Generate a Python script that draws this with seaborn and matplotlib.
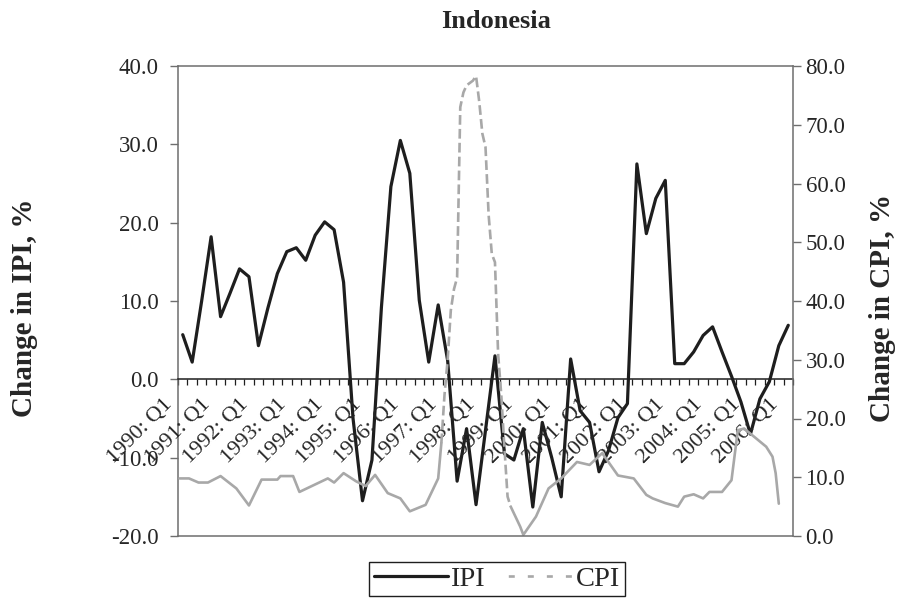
import numpy as np
import pandas as pd
import matplotlib
matplotlib.use("Agg")
import matplotlib.pyplot as plt
import matplotlib.transforms as mtransforms
import seaborn as sns
from matplotlib.lines import Line2D

# quarterly industrial production index growth, 1990 Q1 .. 2006 Q1
ipi = [5.7, 2.2, 10.0, 18.2, 8.0, 11.0, 14.1, 13.1, 4.3, 9.1,
       13.5, 16.3, 16.8, 15.2, 18.4, 20.1, 19.1, 12.4, -5.0, -15.5,
       -10.3, 9.2, 24.6, 30.5, 26.3, 10.1, 2.2, 9.5, 2.4, -13.0,
       -6.3, -16.0, -6.5, 3.0, -9.5, -10.3, -6.3, -16.3, -5.5, -10.0,
       -15.0, 2.6, -4.0, -5.5, -11.8, -9.1, -4.9, -3.1, 27.5, 18.6,
       23.1, 25.4, 2.0, 2.0, 3.5, 5.6, 6.7, 3.5, 0.4, -2.9,
       -7.0, -2.5, -0.3, 4.3, 6.9]

# consumer price inflation, months since Jan 1990
cpi_month = [0, 3, 6, 9, 13, 18, 22, 26, 31, 32, 36, 38, 47, 49, 52, 56, 59,
             62, 66, 70, 73, 78, 82, 83, 84, 85, 86, 87, 88, 89, 90, 91, 93,
             94, 95, 96, 97, 98, 99, 100, 101, 102, 103, 104, 105, 108, 109,
             113, 117, 121, 126, 130, 134, 139, 144, 148, 150, 154, 158, 160,
             163, 166, 168, 172, 175, 177, 179, 186, 188, 189, 190]
cpi_value = [9.8, 9.8, 9.1, 9.1, 10.2, 8.1, 5.2, 9.6, 9.6, 10.2, 10.2, 7.5,
             9.8, 9.1, 10.7, 9.3, 8.5, 10.4, 7.3, 6.4, 4.2, 5.3, 9.8, 15.8,
             24.0, 30.0, 38.4, 42.0, 44.0, 73.0, 75.5, 76.7, 77.5, 78.3,
             74.0, 68.5, 66.2, 54.6, 48.0, 46.6, 31.0, 24.0, 15.0, 6.7, 5.0,
             1.6, 0.2, 3.3, 8.1, 9.8, 12.6, 12.1, 14.1, 10.3, 9.8, 7.0, 6.4,
             5.6, 5.0, 6.7, 7.1, 6.4, 7.5, 7.5, 9.5, 18.0, 18.3, 15.2, 13.5,
             10.7, 5.5]
crisis_start, crisis_end = 83, 105

years = list(range(1990, 2007))
year_labels = [f"{y}: Q1" for y in years]

BLACK = "#1e1e1e"
GRAY = "#a8a8a8"
BORDER = "#6e6e6e"

sns.set_theme(style="white")
plt.rcParams["font.family"] = ["Liberation Serif", "DejaVu Serif"]
plt.rcParams["lines.scale_dashes"] = False

ipi_df = pd.DataFrame({"t": np.arange(len(ipi)), "ipi": ipi})
cpi_df = pd.DataFrame({"month": cpi_month, "cpi": cpi_value})
cpi_df["t"] = (cpi_df["month"] - 1) / 3
calm = pd.concat([
    cpi_df[cpi_df["month"] <= crisis_start].assign(seg=0),
    cpi_df[cpi_df["month"] >= crisis_end].assign(seg=1),
])
crisis = cpi_df[(cpi_df["month"] >= crisis_start) & (cpi_df["month"] <= crisis_end)]

fig = plt.figure(figsize=(9, 6.02), dpi=100)
ax = fig.add_axes([178 / 900, 1 - 536 / 602, 615 / 900, 470 / 602])
ax2 = ax.twinx()

sns.lineplot(data=ipi_df, x="t", y="ipi", ax=ax, color=BLACK, linewidth=2.3, legend=False)
sns.lineplot(data=calm, x="t", y="cpi", units="seg", estimator=None, ax=ax2,
             color=GRAY, linewidth=1.9, legend=False)
sns.lineplot(data=crisis, x="t", y="cpi", estimator=None, ax=ax2, color=GRAY,
             linewidth=1.9, linestyle=(0, (7, 3)), legend=False)

ax.set_xlim(-0.5, len(ipi) - 0.5)
ax.set_ylim(-20, 40)
ax2.set_ylim(0, 80)
for a in (ax, ax2):
    a.set_xlabel("")
    a.set_ylabel("")
    a.grid(False)

ax.set_yticks(np.arange(-20, 41, 10))
ax.set_yticklabels([f"{v:.1f}" for v in np.arange(-20, 41, 10)])
ax2.set_yticks(np.arange(0, 81, 10))
ax2.set_yticklabels([f"{v:.1f}" for v in np.arange(0, 81, 10)])

# category boundaries as tick marks on the zero line
ax.set_xticks(np.arange(-0.5, len(ipi), 1))
ax.set_xticklabels([])
ax.tick_params(axis="x", which="major", direction="out", length=4, width=0.9,
               color=BLACK, bottom=True)

# year labels at each Q1, rotated like the original
shift = mtransforms.ScaledTranslation(-0.13, -0.22, fig.dpi_scale_trans)
for pos, lab in zip(range(0, len(ipi), 4), year_labels):
    ax.text(pos, 0, lab, transform=ax.transData + shift, rotation=45,
            rotation_mode="anchor", ha="right", va="center", fontsize=16)

ax.tick_params(axis="y", direction="out", length=6, width=1, color=BORDER,
               labelsize=16.5, pad=8, left=True)
ax2.tick_params(axis="y", direction="out", length=6, width=1, color=BORDER,
                labelsize=16.5, pad=3, right=True)

ax.spines["bottom"].set_position(("data", 0))
ax.spines["bottom"].set_color(BLACK)
ax.spines["bottom"].set_linewidth(1.1)
ax.spines["top"].set_visible(False)
ax.spines["right"].set_visible(False)
ax.spines["left"].set_color(BORDER)
ax.spines["left"].set_linewidth(1.1)
ax2.spines["left"].set_visible(False)
for s in ("top", "right", "bottom"):
    ax2.spines[s].set_color(BORDER)
    ax2.spines[s].set_linewidth(1.1)

fig.text(496 / 900, 1 - 22 / 602, "Indonesia", ha="center", va="center",
         fontsize=19, fontweight="bold")
fig.text(25 / 900, 1 - 308 / 602, "Change in IPI, %", rotation=90,
         ha="center", va="center", fontsize=21, fontweight="bold")
fig.text(883 / 900, 1 - 308 / 602, "Change in CPI, %", rotation=90,
         ha="center", va="center", fontsize=21, fontweight="bold")

handles = [
    Line2D([], [], color=BLACK, linewidth=2.3),
    Line2D([], [], color=GRAY, linewidth=1.9, linestyle=(7, (4.3, 9.4))),
]
fig.legend(handles, ["IPI", "CPI"], loc="center", bbox_to_anchor=(497 / 900, 1 - 579 / 602),
           ncol=2, frameon=True, fancybox=False, edgecolor=BLACK, framealpha=1,
           fontsize=20.5, handlelength=2.6, handletextpad=0.1, columnspacing=0.5,
           borderpad=0.15, borderaxespad=0)

fig.savefig("out.png", dpi=100)
